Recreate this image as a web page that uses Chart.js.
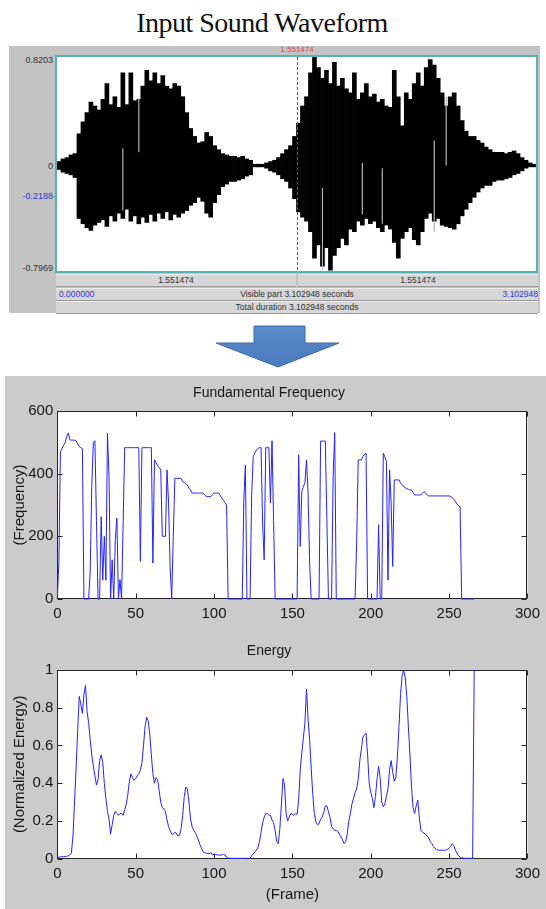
<!DOCTYPE html>
<html>
<head>
<meta charset="utf-8">
<title>Input Sound Waveform</title>
<script src="https://cdn.jsdelivr.net/npm/chart.js@4.4.1/dist/chart.umd.min.js"></script>
<style>
  html, body { margin: 0; padding: 0; background: #fff; }
  body { position: relative; width: 546px; height: 909px; overflow: hidden; font-family: "Liberation Sans", Arial, sans-serif; }
  .abs { position: absolute; }
  #mainTitle { left: -11px; top: 7px; width: 546px; text-align: center; font-family: "Liberation Serif", "Times New Roman", serif; font-size: 28px; color: #111; letter-spacing: -0.5px; }
  #wavePanel { left: 9px; top: 46px; width: 531px; height: 267px; background: #c3c3c3; }
  #waveBox { left: 55px; top: 55px; width: 479px; height: 214px; border: 2px solid #55b3b3; background: #fff; }
  .ylab { left: 9px; width: 44px; text-align: right; font-size: 9px; line-height: 10px; color: #333; }
  .cell { background: #d6d6d6; border-top: 1px solid #ececec; border-bottom: 1px solid #9a9a9a; height: 11px; line-height: 11px; font-size: 8.5px; color: #333; text-align: center; }
  .blue { color: #3535d8; }
  #matPanel { left: 5px; top: 376px; width: 541px; height: 533px; background: #cbcbcb; }
</style>
</head>
<body>
<div id="mainTitle" class="abs">Input Sound Waveform</div>

<!-- Praat style waveform window -->
<div id="wavePanel" class="abs"></div>
<div class="abs" style="left:257px;top:45px;width:80px;text-align:center;font-size:8px;color:#e04848;">1.551474</div>
<div id="waveBox" class="abs"><canvas id="waveChart" width="479" height="214"></canvas></div>
<div class="abs ylab" style="top:55px;">0.8203</div>
<div class="abs ylab" style="top:161px;">0</div>
<div class="abs ylab blue" style="top:191px;">-0.2188</div>
<div class="abs" style="left:53px;top:196px;width:3px;height:1px;background:#55b3b3;"></div>
<div class="abs ylab" style="top:263px;">-0.7969</div>

<div class="abs cell" style="left:56px;top:274px;width:240px;">1.551474</div>
<div class="abs cell" style="left:298px;top:274px;width:240px;">1.551474</div>
<div class="abs cell" style="left:56px;top:288px;width:482px;">Visible part 3.102948 seconds</div>
<div class="abs blue" style="left:59px;top:288px;font-size:8.5px;line-height:13px;">0.000000</div>
<div class="abs blue" style="left:460px;top:288px;width:78px;text-align:right;font-size:8.5px;line-height:13px;">3.102948</div>
<div class="abs cell" style="left:56px;top:301px;width:482px;">Total duration 3.102948 seconds</div>

<!-- arrow -->
<svg class="abs" style="left:210px;top:320px;" width="135" height="52">
  <defs>
    <linearGradient id="arrowFill" x1="0" y1="0" x2="0" y2="1">
      <stop offset="0" stop-color="#5a8bcb"/>
      <stop offset="1" stop-color="#4a7bbc"/>
    </linearGradient>
  </defs>
  <polygon points="44,6 95,6 95,23 129,23 68,47 6,23 44,23" fill="url(#arrowFill)" stroke="#3d6aa6" stroke-width="1"/>
</svg>

<!-- MATLAB figure -->
<div id="matPanel" class="abs"></div>
<canvas id="f0Chart" class="abs" style="left:5px;top:376px;" width="541" height="264"></canvas>
<canvas id="energyChart" class="abs" style="left:5px;top:640px;" width="541" height="268"></canvas>

<script>
// ======================================
// DATA
// ======================================
const cursorTime = 1.551474;
const totalDuration = 3.102948;

// waveform envelope, 120 columns over 0 .. 3.102948 s
const waveHigh = [0.03,0.05,0.06,0.08,0.09,0.24,0.33,0.40,0.48,0.45,
  0.42,0.50,0.62,0.46,0.52,0.44,0.70,0.46,0.70,0.49,
  0.50,0.60,0.72,0.64,0.70,0.62,0.68,0.60,0.58,0.62,
  0.60,0.52,0.40,0.28,0.22,0.17,0.18,0.25,0.22,0.15,
  0.12,0.09,0.08,0.07,0.07,0.06,0.07,0.05,0.04,0.01,
  0.01,0.01,0.02,0.03,0.04,0.06,0.09,0.12,0.15,0.22,
  0.32,0.45,0.52,0.70,0.82,0.74,0.66,0.72,0.62,0.78,
  0.60,0.66,0.58,0.55,0.70,0.50,0.55,0.62,0.52,0.54,
  0.48,0.50,0.45,0.44,0.72,0.52,0.30,0.55,0.50,0.62,
  0.70,0.60,0.74,0.80,0.76,0.66,0.55,0.45,0.52,0.55,
  0.45,0.34,0.26,0.22,0.22,0.19,0.17,0.14,0.12,0.10,
  0.10,0.10,0.09,0.10,0.11,0.09,0.06,0.04,0.02,0.01];
const waveLow = [-0.03,-0.05,-0.06,-0.07,-0.09,-0.40,-0.44,-0.47,-0.49,-0.45,
  -0.43,-0.41,-0.46,-0.38,-0.42,-0.36,-0.40,-0.33,-0.42,-0.38,
  -0.44,-0.39,-0.43,-0.37,-0.42,-0.36,-0.40,-0.35,-0.41,-0.37,
  -0.39,-0.36,-0.34,-0.30,-0.28,-0.24,-0.27,-0.36,-0.39,-0.28,
  -0.22,-0.16,-0.14,-0.12,-0.12,-0.11,-0.10,-0.08,-0.07,-0.01,
  -0.01,-0.01,-0.02,-0.04,-0.05,-0.07,-0.10,-0.12,-0.17,-0.25,
  -0.35,-0.39,-0.42,-0.50,-0.70,-0.60,-0.76,-0.62,-0.79,-0.68,
  -0.62,-0.55,-0.60,-0.48,-0.50,-0.42,-0.45,-0.40,-0.44,-0.42,
  -0.47,-0.50,-0.45,-0.48,-0.58,-0.70,-0.55,-0.50,-0.47,-0.56,
  -0.60,-0.50,-0.40,-0.36,-0.42,-0.40,-0.45,-0.46,-0.47,-0.48,
  -0.44,-0.38,-0.33,-0.28,-0.24,-0.20,-0.17,-0.15,-0.15,-0.12,
  -0.11,-0.11,-0.10,-0.09,-0.07,-0.06,-0.04,-0.02,-0.01,-0.01];

// light vertical streaks inside the waveform: column index, from, to
const streakCols = [16, 20, 66, 76, 81, 94, 97];
const streakLow = [-0.34, 0.10, -0.79, -0.37, -0.44, -0.50, 0.0];
const streakHigh = [0.13, 0.51, -0.17, 0.02, -0.02, 0.19, 0.52];

// fundamental frequency per frame (frames 0..266)
const f0Values = [0,115,470,480,490,500,518,530,508,507,
  507,507,505,495,486,483,480,0,0,0,
  0,90,360,500,505,250,0,0,263,60,
  200,60,529,390,0,125,0,190,258,0,
  62,0,240,483,483,483,483,483,483,483,
  483,483,483,120,483,483,483,483,483,483,
  483,115,444,435,425,420,412,200,200,200,
  412,306,100,0,200,385,385,385,385,385,
  375,372,368,364,354,348,338,338,338,338,
  338,338,338,338,333,327,327,327,327,333,
  338,338,338,338,330,322,315,308,300,0,
  0,0,0,0,0,0,0,0,0,316,
  428,0,0,0,330,455,465,475,481,483,
  483,240,125,483,483,483,306,505,250,0,
  0,0,0,0,0,0,0,0,0,0,
  0,0,0,0,460,168,343,359,370,444,
  338,115,0,0,0,0,0,0,504,504,
  504,504,253,0,0,0,391,531,0,0,
  0,0,0,0,0,0,0,0,0,0,
  0,178,444,444,444,455,462,465,0,0,
  0,0,0,0,0,237,0,0,465,454,
  439,60,412,306,104,380,380,380,380,370,
  365,359,355,352,350,348,348,340,332,332,
  332,332,332,338,343,338,332,329,329,329,
  329,329,329,329,329,329,329,329,329,329,
  329,327,324,318,311,303,297,295,0,0,
  0,0,0,0,0,0,0];

// normalized energy per frame (frames 0..266)
const energyValues = [0.005,0.008,0.01,0.01,0.012,0.012,0.013,0.015,0.02,0.03,
  0.12,0.30,0.48,0.68,0.86,0.82,0.77,0.87,0.92,0.78,
  0.72,0.63,0.55,0.49,0.44,0.39,0.42,0.52,0.55,0.51,
  0.40,0.32,0.25,0.21,0.13,0.18,0.23,0.25,0.24,0.23,
  0.24,0.24,0.23,0.26,0.29,0.34,0.41,0.45,0.43,0.415,
  0.425,0.44,0.45,0.47,0.51,0.60,0.70,0.75,0.73,0.66,
  0.55,0.45,0.40,0.43,0.42,0.36,0.30,0.27,0.265,0.25,
  0.205,0.17,0.15,0.13,0.13,0.14,0.135,0.12,0.125,0.16,
  0.23,0.33,0.38,0.37,0.30,0.21,0.17,0.15,0.14,0.12,
  0.10,0.075,0.055,0.037,0.032,0.03,0.027,0.027,0.032,0.02,
  0.023,0.022,0.02,0.02,0.018,0.02,0.023,0.02,0.008,0.003,
  0.002,0.002,0.002,0.002,0.002,0.002,0.002,0.002,0.002,0.002,
  0.002,0.002,0.002,0.002,0.015,0.025,0.035,0.045,0.06,0.09,
  0.14,0.19,0.22,0.24,0.24,0.23,0.23,0.205,0.19,0.15,
  0.09,0.08,0.16,0.29,0.425,0.39,0.24,0.20,0.22,0.24,
  0.235,0.23,0.24,0.235,0.31,0.47,0.56,0.64,0.72,0.90,
  0.74,0.63,0.48,0.34,0.24,0.195,0.18,0.185,0.21,0.22,
  0.245,0.28,0.28,0.25,0.22,0.17,0.16,0.15,0.15,0.145,
  0.13,0.115,0.10,0.08,0.09,0.13,0.20,0.24,0.29,0.32,
  0.35,0.37,0.42,0.52,0.58,0.645,0.655,0.665,0.55,0.40,
  0.35,0.32,0.27,0.33,0.42,0.49,0.43,0.30,0.275,0.29,
  0.33,0.37,0.47,0.52,0.46,0.41,0.43,0.54,0.70,0.87,
  0.97,1.0,0.96,0.86,0.70,0.55,0.38,0.27,0.24,0.28,
  0.31,0.22,0.15,0.14,0.135,0.13,0.12,0.11,0.09,0.08,
  0.065,0.055,0.048,0.045,0.045,0.045,0.045,0.045,0.045,0.05,
  0.055,0.065,0.08,0.07,0.045,0.03,0.015,0.008,0.005,0.003,
  0.002,0.002,0.002,0.002,0.002,0.002,1.0];

const frameTicks = [0, 50, 100, 150, 200, 250, 300];
const f0Ticks = [0, 200, 400, 600];
const energyTicks = [0, 0.2, 0.4, 0.6, 0.8, 1];

// ======================================
// STYLE
// ======================================
const lineBlue = 'rgb(35,35,255)';
const axisColor = '#262626';
const textColor = '#161616';
Chart.defaults.font.family = '"Liberation Sans", Arial, sans-serif';

// ======================================
// PLUGINS
// ======================================
const plotBg = {
  id: 'plotBg',
  beforeDraw(chart) {
    const { ctx, chartArea: a } = chart;
    ctx.save();
    ctx.fillStyle = '#fff';
    ctx.fillRect(a.left, a.top, a.right - a.left, a.bottom - a.top);
    ctx.restore();
  }
};

// matlab box with inward ticks on all four sides
const matlabBox = {
  id: 'matlabBox',
  beforeDatasetsDraw(chart) {
    const { ctx, chartArea: a, scales: { x, y } } = chart;
    const L = Math.round(a.left) + 0.5, R = Math.round(a.right) - 0.5;
    const T = Math.round(a.top) + 0.5, B = Math.round(a.bottom) - 0.5;
    ctx.save();
    ctx.strokeStyle = axisColor;
    ctx.lineWidth = 1;
    ctx.beginPath();
    x.ticks.forEach(t => {
      const px = Math.round(x.getPixelForValue(t.value)) + 0.5;
      ctx.moveTo(px, B); ctx.lineTo(px, B - 5);
      ctx.moveTo(px, T); ctx.lineTo(px, T + 5);
    });
    y.ticks.forEach(t => {
      const py = Math.round(y.getPixelForValue(t.value)) + 0.5;
      ctx.moveTo(L, py); ctx.lineTo(L + 5, py);
      ctx.moveTo(R, py); ctx.lineTo(R - 5, py);
    });
    ctx.stroke();
    ctx.strokeRect(L, T, R - L, B - T);
    ctx.restore();
  }
};

const cursorLine = {
  id: 'cursorLine',
  afterDatasetsDraw(chart) {
    const { ctx, chartArea: a } = chart;
    const px = Math.round(a.left + (a.right - a.left) * cursorTime / totalDuration) + 0.5;
    ctx.save();
    ctx.strokeStyle = '#e02424';
    ctx.lineWidth = 1;
    ctx.setLineDash([3, 2]);
    ctx.beginPath();
    ctx.moveTo(px, a.top);
    ctx.lineTo(px, a.bottom);
    ctx.stroke();
    ctx.restore();
  }
};

function fixedTicks(list) {
  return function(scale) { scale.ticks = list.map(v => ({ value: v })); };
}

function matlabOptions(cfg) {
  return {
    responsive: false, animation: false, devicePixelRatio: 1,
    layout: { padding: { left: 0, right: 13, top: 0, bottom: 0 } },
    plugins: {
      legend: { display: false }, tooltip: { enabled: false },
      title: { display: true, text: cfg.title, color: textColor, font: { size: 14, weight: 'normal' }, padding: cfg.titlePad }
    },
    scales: {
      x: {
        type: 'linear', min: 0, max: 300,
        grid: { display: false, drawTicks: false }, border: { display: false },
        afterBuildTicks: fixedTicks(frameTicks),
        ticks: { padding: 6, color: textColor, font: { size: 15 } },
        title: cfg.xTitle ? { display: true, text: cfg.xTitle, color: textColor, font: { size: 15 }, padding: { top: 0, bottom: 4 } } : { display: false },
        afterFit(s) { s.height = cfg.xHeight; }
      },
      y: {
        min: cfg.yMin, max: cfg.yMax,
        grid: { display: false, drawTicks: false }, border: { display: false },
        afterBuildTicks: fixedTicks(cfg.yTicks),
        ticks: { padding: 4, color: textColor, font: { size: 15 }, callback: v => String(+v.toFixed(1)) },
        title: { display: true, text: cfg.yTitle, color: textColor, font: { size: 15 }, padding: { top: 6, bottom: 0 } },
        afterFit(s) { s.width = 52.3; }
      }
    }
  };
}

// ======================================
// CHARTS
// ======================================
document.addEventListener('DOMContentLoaded', function() {
  const streakData = waveHigh.map(() => null);
  streakCols.forEach((c, k) => { streakData[c] = [streakLow[k], streakHigh[k]]; });

  new Chart(document.getElementById('waveChart'), {
    type: 'bar',
    data: {
      labels: waveHigh.map((v, i) => i),
      datasets: [{
        data: waveLow.map((lo, i) => [lo, waveHigh[i]]),
        backgroundColor: '#000', borderWidth: 0,
        barPercentage: 1, categoryPercentage: 1, grouped: false, order: 2
      }, {
        data: streakData,
        backgroundColor: '#b4b4b4', borderWidth: 0,
        barPercentage: 0.3, categoryPercentage: 1, grouped: false, order: 1
      }]
    },
    options: {
      responsive: false, animation: false, devicePixelRatio: 1,
      layout: { padding: 0 },
      plugins: { legend: { display: false }, tooltip: { enabled: false } },
      scales: {
        x: { display: false },
        y: { display: false, min: -0.7969, max: 0.8203 }
      }
    },
    plugins: [cursorLine]
  });

  new Chart(document.getElementById('f0Chart'), {
    type: 'line',
    data: { datasets: [{
      data: f0Values.map((v, i) => ({ x: i, y: v })),
      borderColor: lineBlue, borderWidth: 1, pointRadius: 0, tension: 0, clip: 1
    }] },
    options: matlabOptions({
      title: 'Fundamental Frequency', titlePad: { top: 9, bottom: 9.2 },
      yMin: 0, yMax: 600, yTicks: f0Ticks, yTitle: '(Frequency)', xHeight: 41
    }),
    plugins: [plotBg, matlabBox]
  });

  new Chart(document.getElementById('energyChart'), {
    type: 'line',
    data: { datasets: [{
      data: energyValues.map((v, i) => ({ x: i, y: v })),
      borderColor: lineBlue, borderWidth: 1, pointRadius: 0, tension: 0, clip: 1
    }] },
    options: matlabOptions({
      title: 'Energy', titlePad: { top: 3.1, bottom: 10.1 },
      yMin: 0, yMax: 1, yTicks: energyTicks, yTitle: '(Normalized Energy)', xTitle: '(Frame)', xHeight: 49.3
    }),
    plugins: [plotBg, matlabBox]
  });
});
</script>
</body>
</html>
